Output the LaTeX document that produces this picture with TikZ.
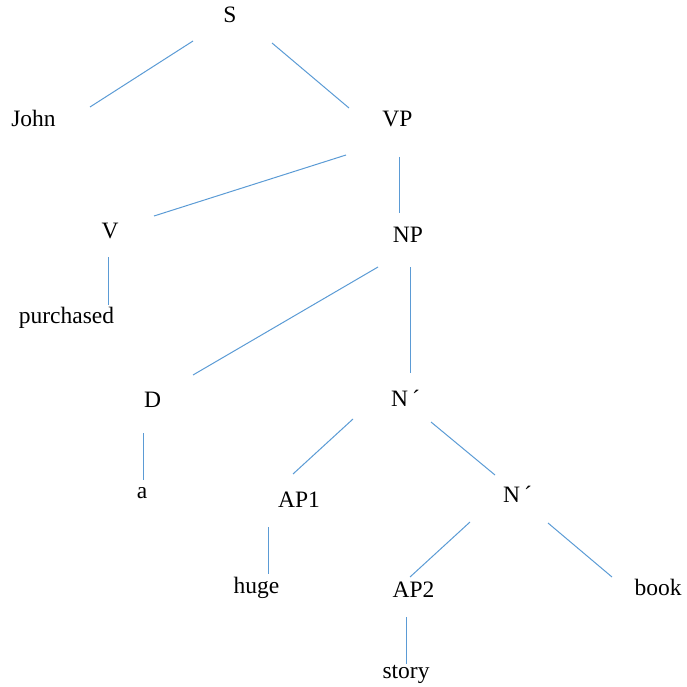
\documentclass[tikz,border=0pt]{standalone}
\usepackage{fontspec}
\setmainfont{Liberation Serif}
\begin{document}
\begin{tikzpicture}[x=1pt,y=-1pt,
  lbl/.style={inner sep=0pt,anchor=base,font=\fontsize{23.5}{28}\selectfont},
  lblw/.style={lbl,anchor=base west},
  branch/.style={draw=branchblue,line width=1pt}]
\definecolor{branchblue}{RGB}{91,155,213}
\useasboundingbox (0,0) rectangle (686,687);

% category and word labels
\node[lbl]  (S)     at (230,23)  {S};
\node[lbl]  (John)  at (33.5,127) {John};
\node[lbl]  (VP)    at (397.5,127) {VP};
\node[lbl]  (V)     at (110,238) {V};
\node[lbl]  (NP)    at (408,242) {NP};
\node[lbl]  (purch) at (66.5,323) {purchased};
\node[lbl]  (D)     at (152.5,407) {D};
\node[lblw] (Nb1)   at (391,406) {N\,´};
\node[lbl]  (a)     at (142,498) {a};
\node[lbl]  (AP1)   at (299,507) {AP1};
\node[lblw] (Nb2)   at (503,502) {N\,´};
\node[lbl]  (huge)  at (256.5,593) {huge};
\node[lbl]  (AP2)   at (413.5,597) {AP2};
\node[lbl]  (book)  at (658,595) {book};
\node[lbl]  (story) at (406,678) {story};

% branch end points
\coordinate (S-l) at (193,41);    \coordinate (John-u) at (90,107);
\coordinate (S-r) at (272,43);    \coordinate (VP-u) at (349,108);
\coordinate (VP-l) at (346,155);  \coordinate (V-u) at (154,216);
\coordinate (VP-d) at (399,157);  \coordinate (NP-u) at (399,213);
\coordinate (V-d) at (108,257);   \coordinate (purch-u) at (108,305);
\coordinate (NP-l) at (378,267);  \coordinate (D-u) at (193,375);
\coordinate (NP-d) at (410,267);  \coordinate (Nb1-u) at (410,373);
\coordinate (D-d) at (143,433);   \coordinate (a-u) at (143,480);
\coordinate (Nb1-l) at (353,419); \coordinate (AP1-u) at (293,474);
\coordinate (Nb1-r) at (431,422); \coordinate (Nb2-u) at (495,475);
\coordinate (AP1-d) at (268,527); \coordinate (huge-u) at (268,574);
\coordinate (Nb2-l) at (470,522); \coordinate (AP2-u) at (410,577);
\coordinate (Nb2-r) at (548,523); \coordinate (book-u) at (612,577);
\coordinate (AP2-d) at (406,617); \coordinate (story-u) at (406,664);

% branches
\draw[branch] (S-l) -- (John-u);
\draw[branch] (S-r) -- (VP-u);
\draw[branch] (VP-l) -- (V-u);
\draw[branch] (VP-d) -- (NP-u);
\draw[branch] (V-d) -- (purch-u);
\draw[branch] (NP-l) -- (D-u);
\draw[branch] (NP-d) -- (Nb1-u);
\draw[branch] (D-d) -- (a-u);
\draw[branch] (Nb1-l) -- (AP1-u);
\draw[branch] (Nb1-r) -- (Nb2-u);
\draw[branch] (AP1-d) -- (huge-u);
\draw[branch] (Nb2-l) -- (AP2-u);
\draw[branch] (Nb2-r) -- (book-u);
\draw[branch] (AP2-d) -- (story-u);
\end{tikzpicture}
\end{document}
